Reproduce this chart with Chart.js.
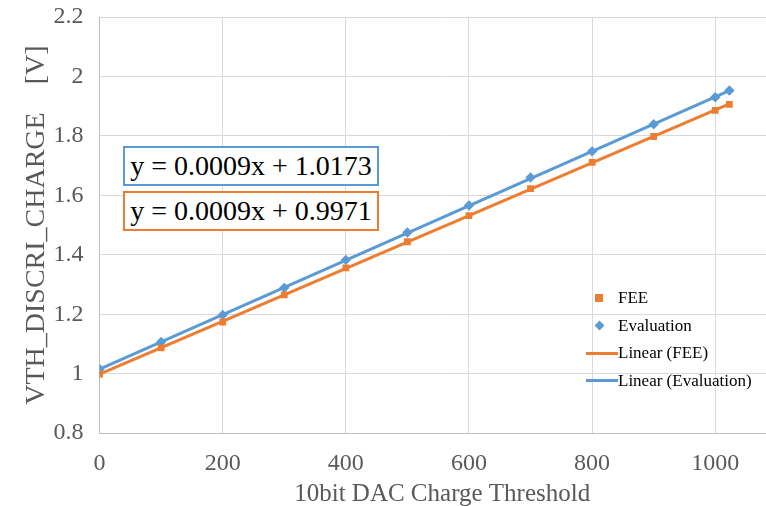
<!DOCTYPE html>
<html>
<head>
<meta charset="utf-8">
<script src="https://cdn.jsdelivr.net/npm/chart.js@4/dist/chart.umd.min.js"></script>
<style>
    body { margin: 0; overflow: hidden; background: #fff; font-family: 'Liberation Serif', 'Times New Roman', serif; }
    #wrap { position: relative; width: 790px; height: 506px; }
    .eq { position: absolute; left: 123px; width: 252px; height: 36px; border: 2.5px solid; font-size: 28px; line-height: 36px; text-align: center; background: #fff; color: #000; white-space: nowrap; }
    #legend { position: absolute; left: 584px; top: 284px; font-size: 17px; color: #000; }
    .item { height: 27.5px; line-height: 27.5px; position: relative; padding-left: 34px; white-space: nowrap; }
    .mark { position: absolute; left: 11px; top: 10px; width: 8px; height: 8px; }
    .diamond { transform: rotate(45deg); width: 7px; height: 7px; left: 12px; }
    .line { position: absolute; left: 2px; top: 12.5px; width: 32px; height: 3px; }
</style>
</head>
<body>
<div id="wrap">
    <canvas id="chart" width="790" height="506"></canvas>
    <div class="eq" id="eq-eval" style="top:146px; border-color:#5b9bd5;"></div>
    <div class="eq" id="eq-fee" style="top:191px; border-color:#ed7d31;"></div>
    <div id="legend"></div>
</div>
<script>
// Values
const dacCodes = [0, 100, 200, 300, 400, 500, 600, 700, 800, 900, 1000, 1023];
const feeVolts = [0.999, 1.087, 1.174, 1.265, 1.356, 1.444, 1.532, 1.623, 1.711, 1.798, 1.886, 1.906];
const evalVolts = [1.016, 1.107, 1.198, 1.289, 1.383, 1.475, 1.566, 1.660, 1.748, 1.839, 1.930, 1.953];
const fitLabels = ['y = 0.0009x + 1.0173', 'y = 0.0009x + 0.9971'];
const xTicks = [0, 200, 400, 600, 800, 1000];
const yTicks = [0.8, 1, 1.2, 1.4, 1.6, 1.8, 2, 2.2];

const orange = '#ed7d31';
const blue = '#5b9bd5';
const grey = '#595959';

// least squares trendline over the data range, like Excel's "Linear" trendline
function trend(xs, ys) {
    const n = xs.length;
    const mx = xs.reduce((a, b) => a + b, 0) / n;
    const my = ys.reduce((a, b) => a + b, 0) / n;
    let sxy = 0, sxx = 0;
    xs.forEach((x, i) => { sxy += (x - mx) * (ys[i] - my); sxx += (x - mx) * (x - mx); });
    const slope = sxy / sxx;
    const icpt = my - slope * mx;
    const x0 = xs[0], x1 = xs[n - 1];
    return [{ x: x0, y: icpt + slope * x0 }, { x: x1, y: icpt + slope * x1 }];
}

const toPoints = ys => dacCodes.map((x, i) => ({ x: x, y: ys[i] }));

document.getElementById('eq-eval').textContent = fitLabels[0];
document.getElementById('eq-fee').textContent = fitLabels[1];

const legendItems = [
    { text: 'FEE', html: '<span class="mark" style="background:' + orange + '"></span>' },
    { text: 'Evaluation', html: '<span class="mark diamond" style="background:' + blue + '"></span>' },
    { text: 'Linear (FEE)', html: '<span class="line" style="background:' + orange + '"></span>' },
    { text: 'Linear (Evaluation)', html: '<span class="line" style="background:' + blue + '"></span>' }
];
document.getElementById('legend').innerHTML = legendItems
    .map(it => '<div class="item">' + it.html + it.text + '</div>').join('');

new Chart(document.getElementById('chart'), {
    type: 'scatter',
    data: {
        datasets: [
            {
                label: 'FEE', data: toPoints(feeVolts), order: 0,
                pointStyle: 'rect', pointRadius: 4.8, backgroundColor: orange, borderColor: orange, borderWidth: 0
            },
            {
                label: 'Evaluation', data: toPoints(evalVolts), order: 0,
                pointStyle: 'rectRot', pointRadius: 5.2, backgroundColor: blue, borderColor: blue, borderWidth: 0
            },
            {
                type: 'line', label: 'Linear (FEE)', data: trend(dacCodes, feeVolts), order: 1,
                borderColor: orange, borderWidth: 3, pointRadius: 0, fill: false
            },
            {
                type: 'line', label: 'Linear (Evaluation)', data: trend(dacCodes, evalVolts), order: 1,
                borderColor: blue, borderWidth: 3, pointRadius: 0, fill: false
            }
        ]
    },
    options: {
        responsive: false,
        animation: false,
        layout: { padding: { left: 20, top: 17, right: 0, bottom: -3 } },
        plugins: { legend: { display: false }, tooltip: { enabled: false } },
        scales: {
            x: {
                type: 'linear', min: 0, max: 1113,
                afterBuildTicks: s => { s.ticks = xTicks.map(v => ({ value: v })); },
                grid: { color: '#d9d9d9', drawTicks: false },
                border: { color: '#bfbfbf' },
                ticks: { color: grey, padding: 16, font: { family: 'Liberation Serif', size: 24 },
                         callback: v => String(v) },
                title: { display: true, text: '10bit DAC Charge Threshold', color: grey, padding: { top: -15, bottom: 0 },
                         font: { family: 'Liberation Serif', size: 25 } }
            },
            y: {
                min: 0.8, max: 2.2,
                afterBuildTicks: s => { s.ticks = yTicks.map(v => ({ value: v })); },
                // let the top label overhang the plot like Excel does
                afterFit: s => { s.paddingTop = 0; s.paddingBottom = 0; },
                grid: { color: '#d9d9d9', drawTicks: false },
                border: { color: '#bfbfbf' },
                ticks: { color: grey, padding: 16, font: { family: 'Liberation Serif', size: 24 },
                         callback: v => String(v) },
                title: { display: true, text: 'VTH_DISCRI_CHARGE    [V]', color: grey, padding: { top: 0, bottom: -16 },
                         font: { family: 'Liberation Serif', size: 28 } }
            }
        }
    }
});
</script>
</body>
</html>
